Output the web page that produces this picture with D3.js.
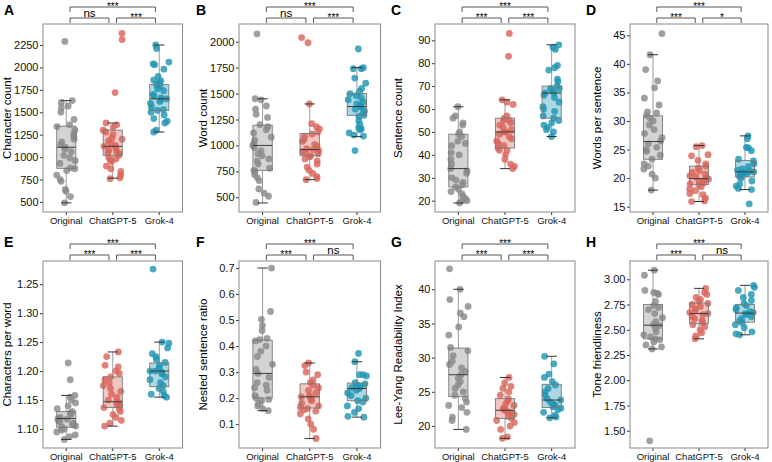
<!DOCTYPE html>
<html><head><meta charset="utf-8">
<script src="https://cdn.jsdelivr.net/npm/d3@7"></script>
<style>body{margin:0;background:#fff;} svg{display:block;font-family:"Liberation Sans", Arial, sans-serif;}</style>
</head><body><svg id="c" width="772" height="462"></svg>
<script>
const groups = ["Original","ChatGPT-5","Grok-4"];
const groupColors = ["#8a8a8a","#d9665c","#2196b3"];

// A: Character count
const charOrig = [2290,1630,1610,1570,1550,1500,1420,1360,1340,1300,1260,1230,1200,1170,1140,1110,1090,1060,1020,990,960,930,880,870,850,800,750,730,640,620,560,490];
const charGpt = [2380,2310,1720,1380,1360,1330,1300,1280,1250,1210,1200,1180,1150,1130,1120,1100,1080,1060,1050,1040,1020,1000,980,970,950,900,870,840,800,770,760];
const charGrok = [2250,2210,2060,2040,2030,1980,1900,1860,1850,1830,1810,1790,1760,1740,1700,1680,1660,1650,1640,1620,1600,1560,1530,1520,1500,1470,1430,1400,1380,1300,1280];
const charBox = [[490,875,1110,1345,1630],[765,1020,1120,1300,1380],[1280,1520,1650,1810,2250]];
const charTicks = [500,750,1000,1250,1500,1750,2000,2250];

// B: Word count
const wordOrig = [2075,1450,1440,1380,1350,1300,1270,1200,1180,1150,1120,1080,1050,1020,1000,980,950,920,900,870,850,820,780,760,750,720,690,660,580,540,510,450];
const wordGpt = [2040,1990,1400,1210,1180,1160,1130,1110,1090,1060,1040,1010,990,970,960,950,940,930,920,900,890,870,850,820,790,760,730,700,680,670];
const wordGrok = [1930,1750,1740,1740,1650,1600,1550,1520,1500,1480,1460,1440,1420,1400,1380,1370,1350,1330,1310,1290,1280,1240,1200,1170,1160,1150,1120,1100,1090,950];
const wordBox = [[445,760,1000,1195,1450],[670,900,960,1115,1400],[1085,1290,1375,1500,1750]];
const wordTicks = [500,750,1000,1250,1500,1750,2000];

// C: Sentence count
const sentOrig = [61,57,56,54,53,50,49,48,46,45,44,41,40,38,36,34,33,32,30,29,28,27,26,25,24,23,22,21,20,20,19];
const sentGpt = [93,83,64,63,62,57,56,55,55,54,53,52,51,50,50,49,48,47,46,45,44,43,42,42,40,38,36,35,34];
const sentGrok = [88,87,86,79,78,77,73,72,70,69,69,68,67,67,66,65,63,61,60,59,57,56,55,54,53,52,51,50,48];
const sentBox = [[19,26,34,49,61],[34,43,50,56,64],[48,56,67,70,88]];
const sentTicks = [20,30,40,50,60,70,80,90];

// D: Words per sentence
const wpsOrig = [45.3,41.6,39,37,35.8,34,32.8,31.6,31.4,31,30.5,30,29.3,28.5,27.8,27.1,26.5,26,25.4,25,24.7,24,23.3,22.5,22.1,21.6,20.7,20,17.9];
const wpsGpt = [25.7,25.5,24.1,23.9,23.1,22.5,22.1,21.8,21.3,21,20.7,20.4,20.2,20,19.8,19.6,19.4,19.2,19,18.8,18.5,18.1,17.8,17.3,17.1,16.5,16,15.9];
const wpsGrok = [27.4,26.9,25.4,25.3,24.8,23.3,23,22.5,22,21.6,21.4,21.2,21.1,21,20.8,20.6,20.4,20.2,20,19.5,19,18.6,18.2,18,15.5];
const wpsBox = [[17.9,23.3,26.4,30.9,41.6],[15.9,18.9,19.9,22.1,25.7],[18,20.2,21.1,23.1,27.4]];
const wpsTicks = [15,20,25,30,35,40,45];

// E: Characters per word
const cpwOrig = [1.214,1.185,1.158,1.155,1.15,1.145,1.14,1.135,1.13,1.128,1.125,1.12,1.118,1.117,1.115,1.112,1.11,1.108,1.105,1.103,1.10,1.098,1.095,1.09,1.087,1.082];
const cpwGpt = [1.233,1.225,1.21,1.207,1.2,1.196,1.19,1.185,1.18,1.175,1.17,1.165,1.16,1.155,1.15,1.147,1.145,1.142,1.14,1.137,1.135,1.13,1.125,1.12,1.115,1.11,1.105];
const cpwGrok = [1.376,1.25,1.248,1.24,1.23,1.225,1.22,1.215,1.21,1.205,1.2,1.2,1.198,1.195,1.19,1.185,1.18,1.175,1.17,1.165,1.16,1.158,1.155];
const cpwBox = [[1.082,1.103,1.118,1.130,1.158],[1.105,1.137,1.147,1.190,1.233],[1.155,1.173,1.200,1.214,1.250]];
const cpwTicks = [1.10,1.15,1.20,1.25,1.30,1.35];
const cpwTickLabels = ["1.10","1.15","1.20","1.25","1.30","1.25"];

// F: Nested sentence ratio
const nestOrig = [0.70,0.533,0.503,0.48,0.46,0.43,0.425,0.42,0.40,0.38,0.36,0.33,0.31,0.295,0.28,0.26,0.25,0.24,0.23,0.21,0.2,0.195,0.19,0.18,0.17,0.16,0.152];
const nestGpt = [0.335,0.325,0.3,0.29,0.27,0.26,0.25,0.24,0.23,0.22,0.21,0.205,0.2,0.195,0.19,0.18,0.17,0.165,0.16,0.155,0.15,0.14,0.12,0.1,0.08,0.045];
const nestGrok = [0.372,0.34,0.29,0.29,0.285,0.26,0.255,0.25,0.245,0.24,0.237,0.23,0.22,0.21,0.2,0.19,0.185,0.17,0.16,0.145,0.13,0.127];
const nestBox = [[0.152,0.200,0.295,0.423,0.700],[0.045,0.162,0.205,0.255,0.335],[0.127,0.190,0.237,0.258,0.340]];
const nestTicks = [0.1,0.2,0.3,0.4,0.5,0.6,0.7];

// G: Lee-Yang Readability Index
const lyOrig = [43,40,38.5,37.5,36.5,36,34.5,33.3,31.5,31,30.3,29.5,29,28.5,28,27.5,27,26.5,26,25.5,25,24.5,24,23.5,23,22.7,22,21.3,20.8,19.5];
const lyGpt = [27.1,26.3,25.8,25.5,25,24.5,24,23.7,23.3,23,22.7,22.5,22.3,22.1,21.9,21.7,21.4,21.1,20.8,20.5,20,19.5,18.4,18.2];
const lyGrok = [30.2,29.1,27.6,27.1,26.5,26,25.5,25,24.5,24,23.8,23.5,23.2,23,22.8,22.6,22.4,22,21.6,21.3,21.2];
const lyBox = [[19.5,24.3,27.5,31.4,40],[18.2,21.1,22.3,24.0,27.1],[21.2,22.7,23.8,26.1,30.2]];
const lyTicks = [20,25,30,35,40];

// H: Tone friendliness
const toneOrig = [3.09,3.04,2.89,2.87,2.86,2.85,2.78,2.74,2.72,2.70,2.66,2.62,2.58,2.55,2.54,2.52,2.48,2.45,2.43,2.41,2.40,2.38,2.35,2.33,2.31,1.40];
const toneGpt = [2.91,2.87,2.85,2.82,2.80,2.78,2.76,2.75,2.73,2.71,2.69,2.67,2.66,2.65,2.63,2.61,2.59,2.57,2.55,2.53,2.50,2.47,2.44,2.41];
const toneGrok = [2.94,2.92,2.89,2.85,2.82,2.79,2.76,2.74,2.72,2.70,2.68,2.67,2.66,2.65,2.63,2.61,2.59,2.57,2.55,2.52,2.48,2.46,2.45];
const toneBox = [[2.31,2.41,2.545,2.75,3.09],[2.41,2.56,2.66,2.765,2.91],[2.45,2.575,2.665,2.75,2.94]];
const toneTicks = [1.50,1.75,2.00,2.25,2.50,2.75,3.00];

// significance labels: [Original vs ChatGPT, ChatGPT vs Grok, Original vs Grok]
const sigA = ["ns","***","***"], sigB = ["ns","***","***"], sigC = ["***","***","***"], sigD = ["***","*","***"];
const sigE = ["***","***","***"], sigF = ["***","ns","***"], sigG = ["***","***","***"], sigH = ["***","ns","***"];

const cols = [[43,182.5],[239,380.5],[435,575],[630,768]];
const rows = [[24,212],[261,448]];
const letterX = [4,196,391,586];
const titleX = [7,203,398,597];

const panels = [
  {L:"A", t:"Character count", d:[charOrig,charGpt,charGrok], b:charBox, ticks:charTicks, fmt:d3.format("d"), dom:[388,2484], sig:sigA, c:0, r:0},
  {L:"B", t:"Word count", d:[wordOrig,wordGpt,wordGrok], b:wordBox, ticks:wordTicks, fmt:d3.format("d"), dom:[358,2171], sig:sigB, c:1, r:0},
  {L:"C", t:"Sentence count", d:[sentOrig,sentGpt,sentGrok], b:sentBox, ticks:sentTicks, fmt:d3.format("d"), dom:[15.07,97.1], sig:sigC, c:2, r:0},
  {L:"D", t:"Words per sentence", d:[wpsOrig,wpsGpt,wpsGrok], b:wpsBox, ticks:wpsTicks, fmt:d3.format("d"), dom:[14.07,46.98], sig:sigD, c:3, r:0},
  {L:"E", t:"Characters per word", d:[cpwOrig,cpwGpt,cpwGrok], b:cpwBox, ticks:cpwTicks, fmt:(v,i)=>cpwTickLabels[i], dom:[1.0672,1.390], sig:sigE, c:0, r:1},
  {L:"F", t:"Nested sentence ratio", d:[nestOrig,nestGpt,nestGrok], b:nestBox, ticks:nestTicks, fmt:d3.format(".1f"), dom:[0.0084,0.727], sig:sigF, c:1, r:1},
  {L:"G", t:"Lee-Yang Readability Index", d:[lyOrig,lyGpt,lyGrok], b:lyBox, ticks:lyTicks, fmt:d3.format("d"), dom:[16.78,44.14], sig:sigG, c:2, r:1},
  {L:"H", t:"Tone friendliness", d:[toneOrig,toneGpt,toneGrok], b:toneBox, ticks:toneTicks, fmt:d3.format(".2f"), dom:[1.329,3.181], sig:sigH, c:3, r:1}
];

const svg = d3.select("#c");
const rng = d3.randomLcg(0.4217);

panels.forEach((p, pi) => {
  const [x0,x1] = cols[p.c], [y0,y1] = rows[p.r];
  const x = d3.scaleBand().domain(groups).range([x0,x1]);
  const y = d3.scaleLinear().domain(p.dom).range([y1,y0]);
  const g = svg.append("g");
  const bw = x.bandwidth();
  const boxW = bw*0.41, capW = bw*0.22;

  const ya = g.append("g").attr("transform",`translate(${x0},0)`)
    .call(d3.axisLeft(y).tickValues(p.ticks).tickFormat(p.fmt).tickSize(3).tickPadding(1.5));
  ya.select(".domain").remove();
  ya.selectAll("line").attr("stroke","#333");
  ya.selectAll("text").attr("fill","#111").style("font-size","11px").style("font-family","Liberation Sans, Arial, sans-serif");
  const xa = g.append("g").attr("transform",`translate(0,${y1})`)
    .call(d3.axisBottom(x).tickSize(3).tickPadding(2));
  xa.select(".domain").remove();
  xa.selectAll("line").attr("stroke","#333");
  xa.selectAll("text").attr("fill","#111").style("font-size","9.5px").style("font-family","Liberation Sans, Arial, sans-serif");

  groups.forEach((gr, gi) => {
    const cx = x(gr) + bw/2;
    const [lo,q1,med,q3,hi] = p.b[gi];
    const col = groupColors[gi];
    g.append("line").attr("x1",cx).attr("x2",cx).attr("y1",y(hi)).attr("y2",y(q3)).attr("stroke","#9a9a9a").attr("stroke-width",1);
    g.append("line").attr("x1",cx).attr("x2",cx).attr("y1",y(q1)).attr("y2",y(lo)).attr("stroke","#9a9a9a").attr("stroke-width",1);
    g.append("rect").attr("x",cx-boxW/2).attr("y",y(q3)).attr("width",boxW).attr("height",y(q1)-y(q3))
      .attr("fill",col).attr("fill-opacity",0.28);
    g.selectAll(null).data(p.d[gi]).enter().append("circle")
      .attr("cx", () => cx + (rng()*2-1)*bw*0.21)
      .attr("cy", v => y(v))
      .attr("r",3.4)
      .attr("fill",col).attr("fill-opacity",0.82);
    g.append("rect").attr("x",cx-boxW/2).attr("y",y(q3)).attr("width",boxW).attr("height",y(q1)-y(q3))
      .attr("fill",col).attr("fill-opacity",0.12).attr("stroke","#7a7a7a").attr("stroke-width",0.9);
    g.append("line").attr("x1",cx-boxW/2).attr("x2",cx+boxW/2).attr("y1",y(med)).attr("y2",y(med)).attr("stroke","#3a3a3a").attr("stroke-width",1);
    [lo,hi].forEach(v => g.append("line").attr("x1",cx-capW/2).attr("x2",cx+capW/2).attr("y1",y(v)).attr("y2",y(v)).attr("stroke","#333").attr("stroke-width",1));
  });

  g.append("rect").attr("x",x0).attr("y",y0).attr("width",x1-x0).attr("height",y1-y0)
    .attr("fill","none").attr("stroke","#8a8a8a").attr("stroke-width",1);

  const c = groups.map(gr => x(gr)+bw/2);
  const inset = 3.8;
  const br = [
    {a:c[0]+inset, b:c[1]-inset, yl:y0-6, s:p.sig[0]},
    {a:c[1]+inset, b:c[2]-inset, yl:y0-6, s:p.sig[1]},
    {a:c[0]+inset, b:c[2]-inset, yl:y0-17, s:p.sig[2]}
  ];
  br.forEach(d => {
    g.append("path").attr("d",`M${d.a},${d.yl+5}V${d.yl}H${d.b}V${d.yl+5}`)
      .attr("fill","none").attr("stroke","#444").attr("stroke-width",0.9);
    const isNs = d.s === "ns";
    g.append("text").attr("x",(d.a+d.b)/2).attr("y", isNs ? d.yl-1.5 : d.yl+3)
      .attr("text-anchor","middle").style("font-size", isNs ? "11.5px" : "10px").attr("fill","#000").text(d.s);
  });

  svg.append("text").attr("transform",`translate(${titleX[p.c]},${(y0+y1)/2}) rotate(-90)`)
    .attr("text-anchor","middle").attr("dominant-baseline","central").style("font-size","11.5px").attr("fill","#000").text(p.t);
  svg.append("text").attr("x",letterX[p.c]).attr("y", p.r===0 ? 15 : 247)
    .style("font-size","14px").style("font-weight","bold").attr("fill","#000").text(p.L);
});
</script></body></html>
